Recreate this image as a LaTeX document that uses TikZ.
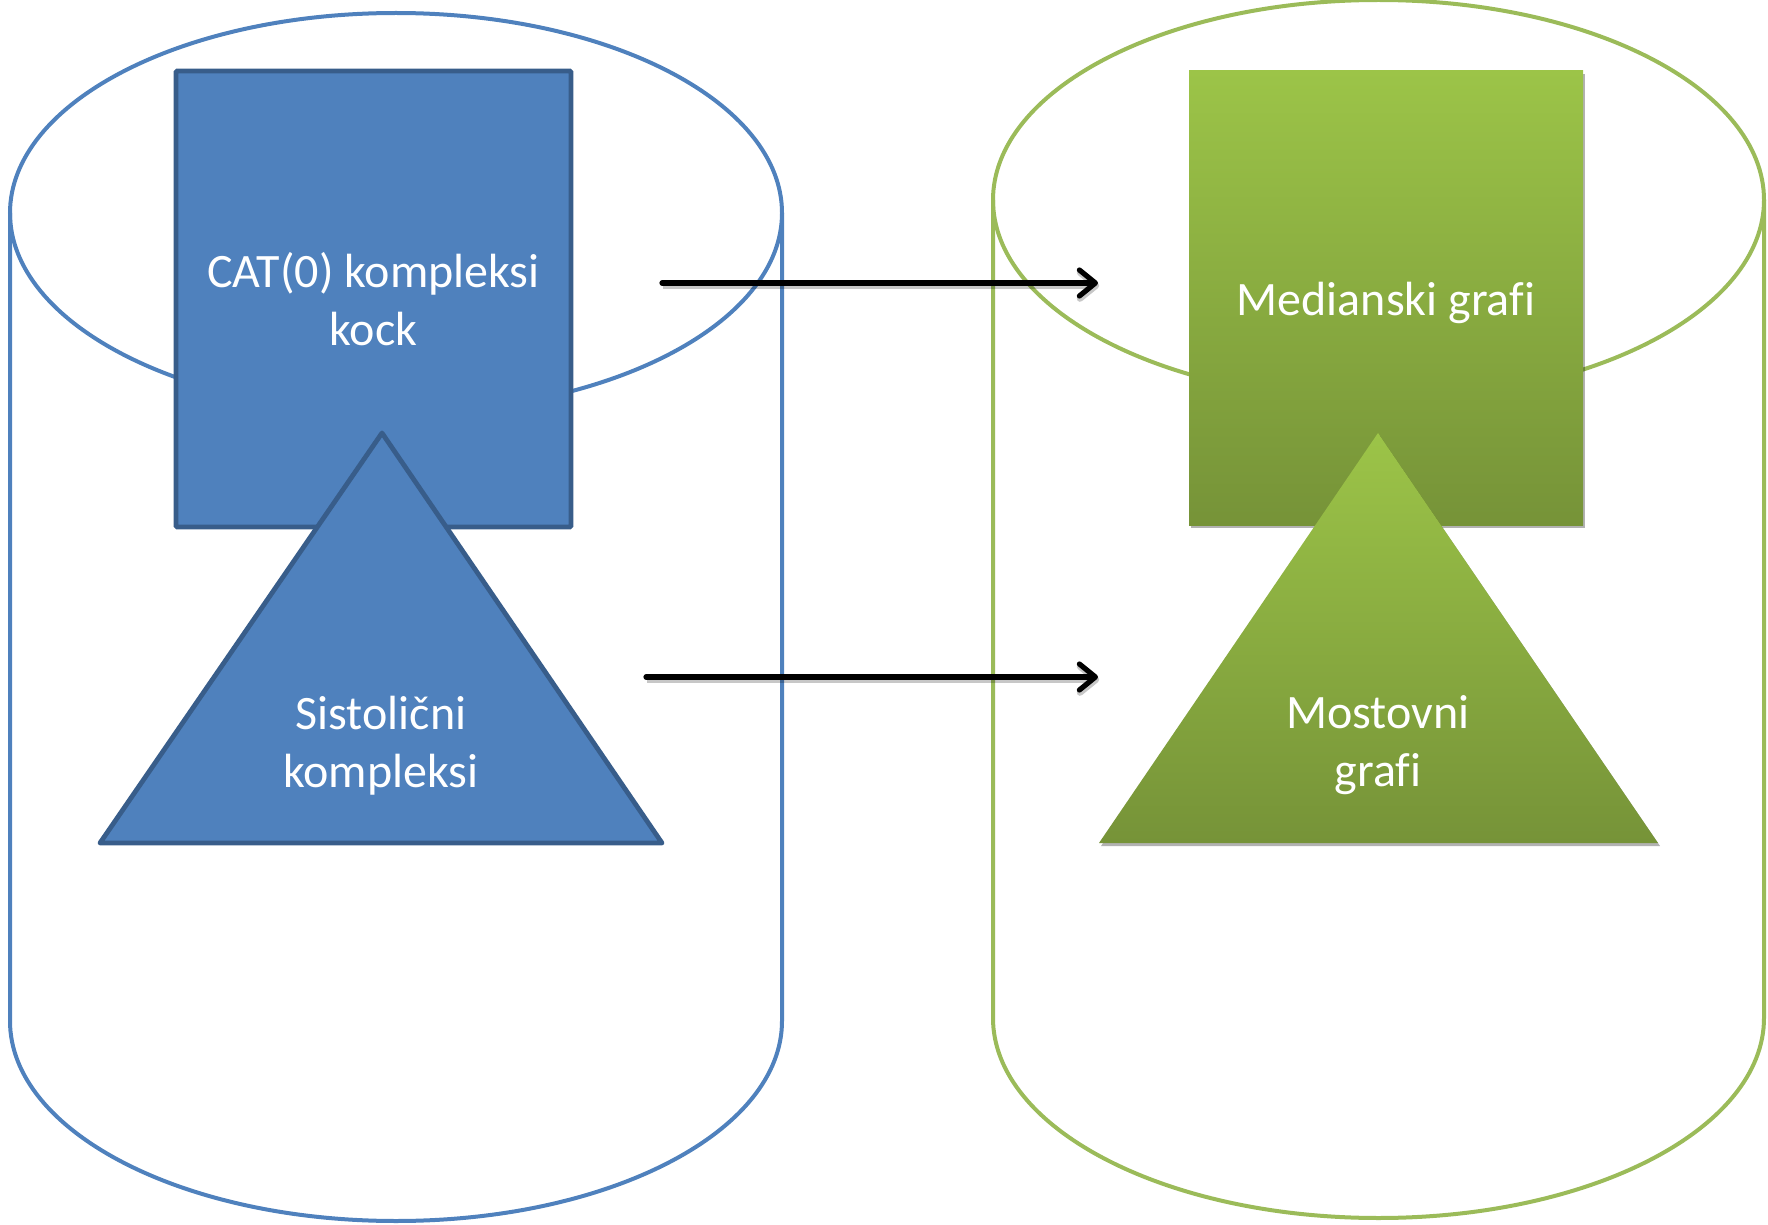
\documentclass[tikz,border=0pt]{standalone}
\usepackage{fontspec}
\setmainfont{Carlito}[Ligatures=NoCommon]
\usetikzlibrary{arrows.meta,shadows}
\definecolor{cblue}{RGB}{79,129,189}
\definecolor{cbluedark}{RGB}{56,93,138}
\definecolor{cgreen}{RGB}{155,187,89}
\definecolor{gtop}{RGB}{156,196,72}
\definecolor{gbot}{RGB}{118,147,56}
\begin{document}
\begin{tikzpicture}[x=0.5pt,y=-0.5pt,
  cylblue/.style={draw=cblue,line width=2pt},
  cylgreen/.style={draw=cgreen,line width=2pt},
  txt/.style={text=white,align=center,font=\fontsize{24}{29}\selectfont,inner sep=0pt},
  bluebox/.style={txt,rectangle,fill=cblue,draw=cbluedark,line width=2.4pt,rounded corners=0.6pt,
    minimum width=197.5pt,minimum height=228pt},
  greenbox/.style={txt,rectangle,top color=gtop,bottom color=gbot,draw=none,
    minimum width=197pt,minimum height=227pt,
    drop shadow={shadow xshift=1pt,shadow yshift=-1.5pt,opacity=0.3,fill=black}},
  bluetri/.style={fill=cblue,draw=cbluedark,line width=2.4pt,line join=round},
  greentri/.style={top color=gtop,bottom color=gbot,
    drop shadow={shadow xshift=1pt,shadow yshift=-1.5pt,opacity=0.3,fill=black}},
  conn/.style={-{Straight Barb[length=8pt,width=13pt,line cap=round,line join=round]},line width=2.6pt,line cap=round,black,
    preaction={draw=black,opacity=0.22,line width=3.2pt,transform canvas={xshift=0.6pt,yshift=-1.3pt},-{Straight Barb[length=8pt,width=13pt,line cap=round,line join=round]}}}
]
\useasboundingbox (0,0) rectangle (1768,1225);

% left cylinder
\draw[cylblue] (396,213) ellipse[x radius=386,y radius=200];
\draw[cylblue] (10,213) -- (10,1021) arc[start angle=180,end angle=0,x radius=386,y radius=200] -- (782,213);

% right cylinder
\draw[cylgreen] (1378.5,200) ellipse[x radius=385.5,y radius=200];
\draw[cylgreen] (993,200) -- (993,1018) arc[start angle=180,end angle=0,x radius=385.5,y radius=200] -- (1764,200);

% blue shapes
\node[bluebox] (cat) at (373.5,299) {CAT(0) kompleksi\\kock};
\draw[bluetri] (382,433) -- (662,843) -- (100,843) -- cycle;
\node[txt] (sis) at (381,746) {Sistolični\\kompleksi};

% green shapes
\node[greenbox] (med) at (1386,298) {};
\node[txt] (medt) at (1386,303) {Medianski grafi};
\shade[greentri] (1378,433) -- (1658,843) -- (1099,843) -- cycle;
\node[txt] (mos) at (1378,745) {Mostovni\\grafi};

% arrows
\coordinate (a1s) at (662,283);
\coordinate (a1e) at (1098,283);
\coordinate (a2s) at (646,677);
\coordinate (a2e) at (1098,677);
\draw[conn] (a1s) -- (a1e);
\draw[conn] (a2s) -- (a2e);
\end{tikzpicture}
\end{document}
